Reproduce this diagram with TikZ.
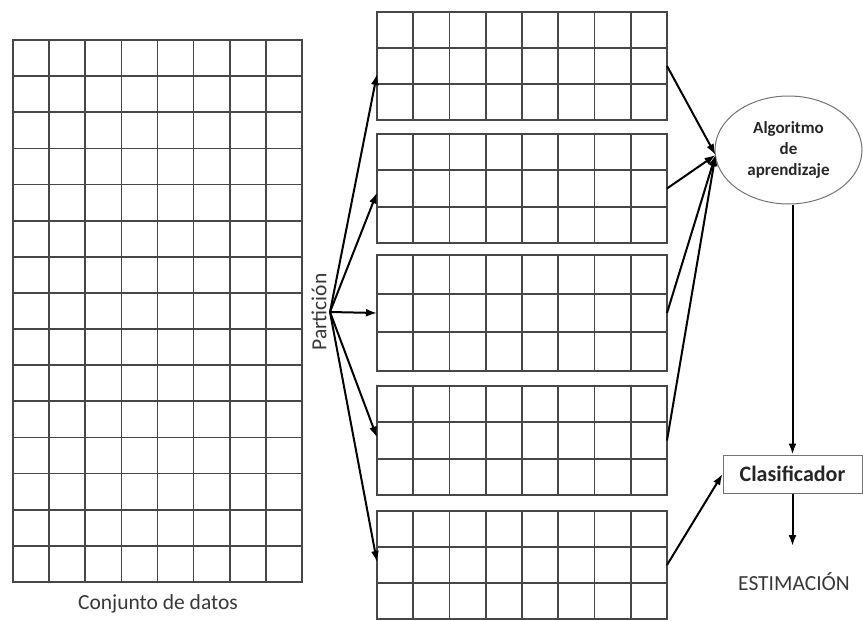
\documentclass[tikz,border=0pt]{standalone}
\usepackage{fontspec}
\setmainfont{Carlito}
\usetikzlibrary{calc,arrows.meta,shapes.geometric}
\tikzset{
  gridframe/.style={draw=black!72, line width=1.7pt, inner sep=0pt, outer sep=0pt},
  gridline/.style={draw=black!72, line width=1.7pt},
  arr/.style={draw=black, line width=2pt, -{Latex[length=11pt,width=8pt]}},
  algnode/.style={ellipse, draw=black!55, line width=1pt, minimum width=147pt, minimum height=108pt,
    inner sep=0pt, align=center, text=black!85, font=\bfseries\fontsize{17}{21}\selectfont},
  clbox/.style={draw=black!55, line width=1pt, minimum width=139pt, minimum height=38pt,
    inner sep=0pt, text=black!85, font=\bfseries\fontsize{22}{26}\selectfont},
  lbl/.style={inner sep=0pt, text=black!78, font=\fontsize{21.5}{25}\selectfont},
}
\newcommand\mkgridlines[5]{%
  \foreach \i in {1,...,#4} {\draw[gridline] ($(#1.north west)!\i/#2!(#1.north east)$) -- ($(#1.south west)!\i/#2!(#1.south east)$);}
  \foreach \j in {1,...,#5} {\draw[gridline] ($(#1.north west)!\j/#3!(#1.south west)$) -- ($(#1.north east)!\j/#3!(#1.south east)$);}
}
\begin{document}
\begin{tikzpicture}[x=1pt,y=-1pt]
\useasboundingbox[fill=white] (0,0) rectangle (863,621);
% data set grid
\node[gridframe, minimum width=289pt, minimum height=542pt] (data) at (157.5,311) {};
\mkgridlines{data}{8}{15}{7}{14}
\node[lbl] (conj) at (158,604) {Conjunto de datos};
% partitions
\node[gridframe, minimum width=290pt, minimum height=108pt] (g1) at (522,66) {};
\node[gridframe, minimum width=290pt, minimum height=109pt] (g2) at (522,188.5) {};
\node[gridframe, minimum width=290pt, minimum height=116pt] (g3) at (522,313) {};
\node[gridframe, minimum width=290pt, minimum height=109pt] (g4) at (522,440.5) {};
\node[gridframe, minimum width=290pt, minimum height=108pt] (g5) at (522,565) {};
\foreach \g in {g1,g2,g3,g4,g5} {\mkgridlines{\g}{8}{3}{7}{2}}
% partition point
\coordinate (part) at (330,312);
\node[lbl, rotate=90] (ptxt) at (319,312) {Partición};
\draw[arr] (part) -- ($(g1.west)+(0,8)$);
\draw[arr] (part) -- ($(g2.west)+(0,4)$);
\draw[arr] (part) -- (g3.west);
\draw[arr] (part) -- ($(g4.west)+(0,-3)$);
\draw[arr] (part) -- ($(g5.west)+(0,-3)$);
% learning algorithm
\node[algnode] (alg) at (788.5,150) {Algoritmo\\de\\aprendizaje};
\coordinate (algin) at ($(alg.west)+(1,5)$);
\draw[arr] (g1.east) -- (algin);
\draw[arr] (g2.east) -- (algin);
\draw[arr] (g3.east) -- (algin);
\draw[arr] (g4.east) -- (algin);
% classifier
\node[clbox] (clas) at (792.5,474) {Clasificador};
\draw[arr] (g5.east) -- (clas.west);
\draw[arr] (clas.north |- alg.south) -- (clas.north);
\coordinate (estarrow) at (793,546);
\draw[arr] (clas.south) -- (clas.south |- estarrow);
\node[lbl] (est) at (794,582) {ESTIMACIÓN};
\end{tikzpicture}
\end{document}
